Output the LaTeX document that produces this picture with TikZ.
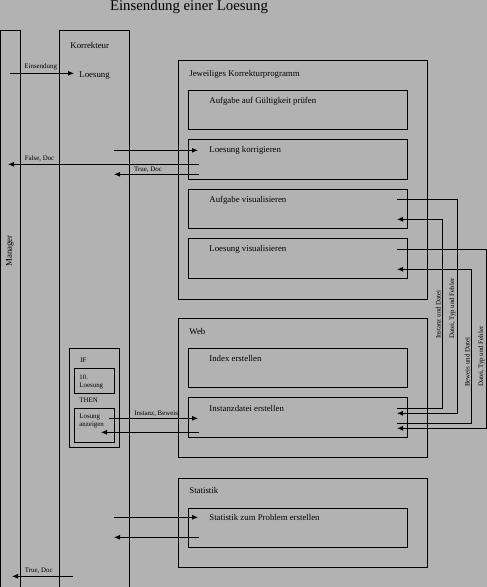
\documentclass[tikz,border=0pt]{standalone}
\usepackage{fontspec}
\setmainfont{Liberation Serif}
\usetikzlibrary{positioning, arrows.meta}
\definecolor{bg}{gray}{0.7}

\begin{document}
\begin{tikzpicture}[
    x=1pt, y=-1pt,
    line width=0.8pt,
    box/.style={rectangle, draw, inner sep=0pt, outer sep=0pt},
    group/.style={box, minimum width=249.5pt},
    task/.style={box, minimum width=219pt, minimum height=39.5pt},
    txt/.style={inner sep=0pt, anchor=west, font=\fontsize{8.8}{10.5}\selectfont},
    small/.style={inner sep=0pt, font=\fontsize{6.9}{8.5}\selectfont},
    arrow/.style={-{Latex[length=6pt,width=5pt]}}
]
\fill[bg] (0,0) rectangle (487,587);
\useasboundingbox (0,0) rectangle (487,587);

\node[inner sep=0pt, font=\fontsize{14.8}{17}\selectfont] (title) at (189,7) {Einsendung einer Loesung};

% Manager und Korrekteur
\node[box, minimum width=19.8pt, minimum height=560pt, anchor=north west] (manager) at (0.5,30.3) {};
\node[txt, rotate=90, anchor=center] (managertxt) at (10,251) {Manager};
\node[box, minimum width=70pt, minimum height=560pt, anchor=north west] (korrekteur) at (59.3,30.3) {};
\node[txt] (korrekteurtxt) at (70,45) {Korrekteur};
\node[txt] (loesung) at (79,75.5) {Loesung};

% Jeweiliges Korrekturprogramm
\node[group, minimum height=239pt, anchor=north west] (programm) at (178,60) {};
\node[txt, below right=14pt and 11pt of programm.north west, anchor=west] (programmtxt) {Jeweiliges Korrekturprogramm};
\node[task, anchor=north west] (pruefen) at (188,90) {};
\node[task, below=10pt of pruefen] (korrigieren) {};
\node[task, below=10pt of korrigieren] (avis) {};
\node[task, below=10pt of avis] (lvis) {};
\node[txt, below right=11pt and 21pt of pruefen.north west, anchor=west] (pruefentxt) {Aufgabe auf Gültigkeit prüfen};
\node[txt, below right=11pt and 21pt of korrigieren.north west, anchor=west] (korrigierentxt) {Loesung korrigieren};
\node[txt, below right=11pt and 21pt of avis.north west, anchor=west] (avistxt) {Aufgabe visualisieren};
\node[txt, below right=11pt and 21pt of lvis.north west, anchor=west] (lvistxt) {Loesung visualisieren};

% Web
\node[group, minimum height=139pt, anchor=north west] (web) at (178,318) {};
\node[txt, below right=13.5pt and 11pt of web.north west, anchor=west] (webtxt) {Web};
\node[task, anchor=north west] (index) at (188,348) {};
\node[task, below=10pt of index] (instanz) {};
\node[txt, below right=10.5pt and 21pt of index.north west, anchor=west] (indextxt) {Index erstellen};
\node[txt, below right=10.5pt and 21pt of instanz.north west, anchor=west] (instanztxt) {Instanzdatei erstellen};

% Statistik
\node[group, minimum height=89pt, anchor=north west] (statistik) at (178,478) {};
\node[txt, below right=12pt and 11pt of statistik.north west, anchor=west] (statistiktxt) {Statistik};
\node[task, anchor=north west] (stat) at (188,508) {};
\node[txt, below right=9pt and 21pt of stat.north west, anchor=west] (stattxt) {Statistik zum Problem erstellen};

% IF / THEN
\node[box, minimum width=50pt, minimum height=99pt, anchor=north west] (ifbox) at (69.3,348.3) {};
\node[small, anchor=west] (iftxt) at (80,360.5) {IF};
\node[box, minimum width=40pt, minimum height=25pt, anchor=north west] (cond) at (74.3,368.3) {};
\node[small, anchor=west, align=left] (condtxt) at (79,382) {10.\\Loesung};
\node[small, anchor=west] (thentxt) at (79,400.5) {THEN};
\node[box, minimum width=40pt, minimum height=34pt, anchor=north west] (show) at (74.3,408.3) {};
\node[small, anchor=west, align=left] (showtxt) at (79,421) {Losung\\anzeigen};

% Anschluesse
\coordinate (einsendung) at (10,73.3);
\coordinate (loesungIn) at (74,73.3);
\coordinate (korIn) at (114,150.3);
\coordinate (korTip) at (198,150.3);
\coordinate (korFalse) at (199,164.3);
\coordinate (mgrFalse) at (8,164.3);
\coordinate (korTrue) at (199,174.3);
\coordinate (kTrue) at (114,174.3);
\coordinate (avisOut) at (397,199.3);
\coordinate (avisIn) at (397,219.3);
\coordinate (lvisOut) at (397,249.3);
\coordinate (lvisIn) at (397,269.3);
\coordinate (instOut1) at (397,408.3);
\coordinate (instIn1) at (397,413.3);
\coordinate (instOut2) at (397,423.3);
\coordinate (instIn2) at (397,428.3);
\coordinate (showOut) at (109,418.3);
\coordinate (instTip) at (198,418.3);
\coordinate (instBack) at (199,432.3);
\coordinate (showTip) at (101,432.3);
\coordinate (statIn) at (114,517.3);
\coordinate (statTip) at (198,517.3);
\coordinate (statOut) at (199,537.3);
\coordinate (kStat) at (114,537.3);
\coordinate (kDone) at (73,576.3);
\coordinate (mgrDone) at (12,576.3);

\draw[arrow] (einsendung) -- (loesungIn) node[small, pos=0.48, above=3pt] (einsendunglbl) {Einsendung};
\draw[arrow] (korIn) -- (korTip);
\draw[arrow] (korFalse) -- (mgrFalse) node[small, pos=0.835, above=2pt] (falselbl) {False, Doc};
\draw[arrow] (korTrue) -- (kTrue) node[small, pos=0.6, above=1.5pt] (truelbl) {True, Doc};

\draw[arrow] (avisOut) -- ++(60,0) |- (instIn1);
\draw[arrow] (instOut1) -- ++(45,0) |- (avisIn);
\draw[arrow] (lvisOut) -- ++(89,0) |- (instIn2);
\draw[arrow] (instOut2) -- ++(74,0) |- (lvisIn);
\node[small, rotate=90, anchor=south west] (instanzlbl) at (441,339.3) {Instanz und Datei};
\node[small, rotate=90, anchor=south west] (fehlerlblA) at (456,339.3) {Datei, Typ und Fehler};
\node[small, rotate=90, anchor=south west] (beweislbl) at (470,387.3) {Beweis und Datei};
\node[small, rotate=90, anchor=south west] (fehlerlblB) at (485,387.3) {Datei, Typ und Fehler};

\draw[arrow] (showOut) -- (instTip) node[small, pos=0.53, above=1.5pt] (instanzbeweislbl) {Instanz, Beweis};
\draw[arrow] (instBack) -- (showTip);
\draw[arrow] (statIn) -- (statTip);
\draw[arrow] (statOut) -- (kStat);
\draw[arrow] (kDone) -- (mgrDone) node[small, pos=0.56, above=2pt] (donelbl) {True, Doc};
\end{tikzpicture}
\end{document}
